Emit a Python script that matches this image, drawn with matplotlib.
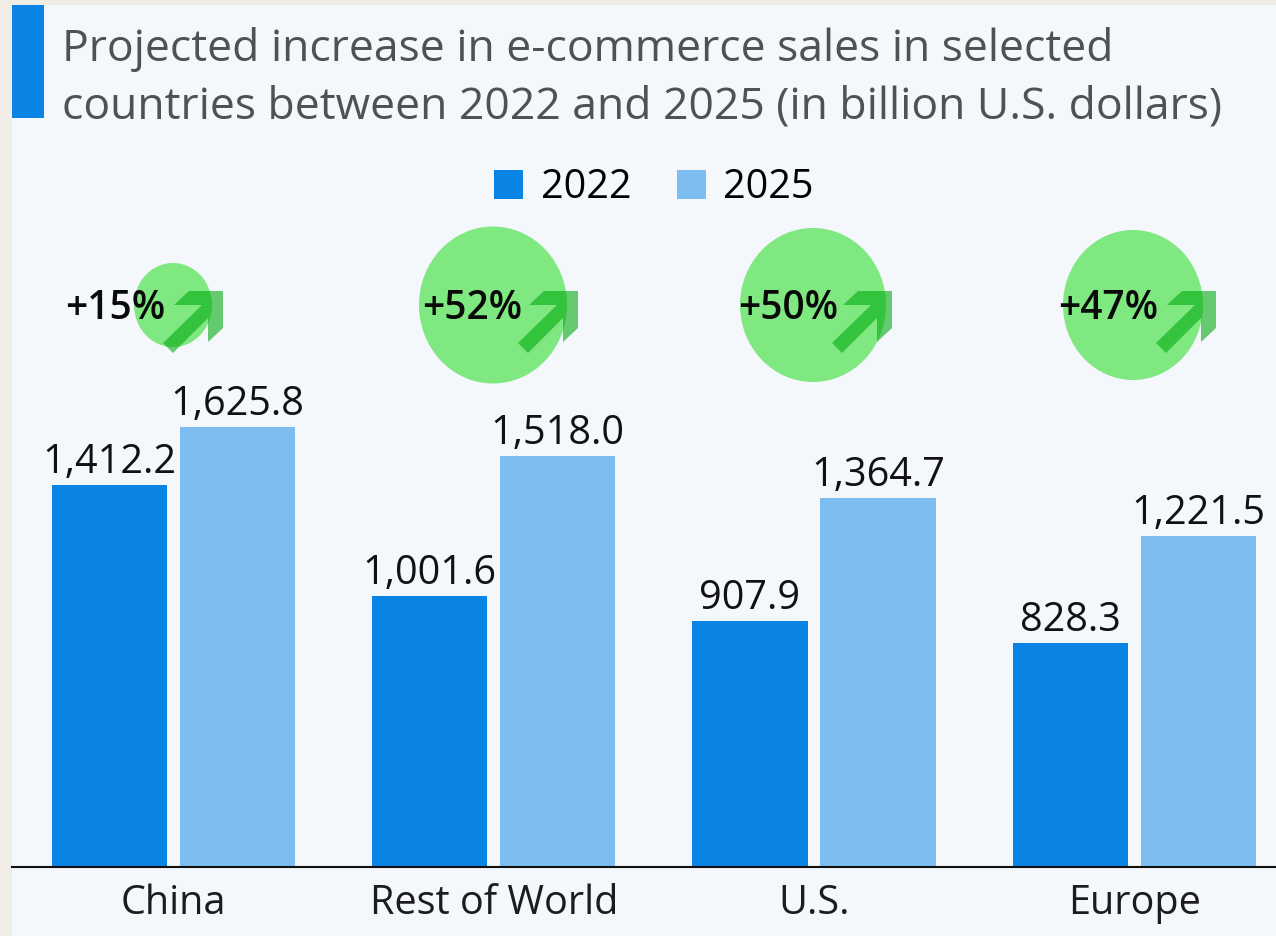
import matplotlib.pyplot as plt
from matplotlib.patches import Ellipse, Polygon, Rectangle

plt.rcParams["font.family"] = ["Open Sans", "DejaVu Sans"]

# data
countries = ["China", "Rest of World", "U.S.", "Europe"]
sales_2022 = [1412.2, 1001.6, 907.9, 828.3]
sales_2025 = [1625.8, 1518.0, 1364.7, 1221.5]
growth = ["+15%", "+52%", "+50%", "+47%"]

# colours
BLUE = "#0a84e4"
LIGHT = "#7dbdf0"
PANEL = "#f4f7fb"
OUTER = "#f0ede6"

# circle / arrow / label spots, in pixels
circle_x = [173, 493, 813, 1133]
circle_w = [78, 148, 146, 140]
circle_h = [84, 157, 154, 150]
circle_y = [305, 305, 305, 305]
arrow_x = [223, 578, 892, 1216]
growth_x = [115, 472, 788, 1108]
arrow_shape = [(-49, 14), (-34, 0), (0, 0), (0, 37), (-15, 51), (-15, 27),
               (-50, 62), (-60, 52), (-21, 14)]

fig = plt.figure(figsize=(12.76, 9.36), dpi=100, facecolor=OUTER)

# background layer in pixel coordinates
bg = fig.add_axes([0, 0, 1, 1])
bg.set_xlim(0, 1276)
bg.set_ylim(936, 0)
bg.axis("off")
bg.add_patch(Rectangle((12, 5), 1264, 931, color=PANEL, lw=0))
bg.add_patch(Rectangle((12, 5), 32, 113, color=BLUE, lw=0))
bg.text(62, 49, "Projected increase in e-commerce sales in selected",
        fontsize=32, color="#4c5357", va="center")
bg.text(62, 107, "countries between 2022 and 2025 (in billion U.S. dollars)",
        fontsize=32, color="#4c5357", va="center")

# bars
ax = fig.add_axes([12 / 1276, (936 - 867) / 936, 1264 / 1276, 867 / 936])
ax.patch.set_alpha(0)
x = list(range(len(countries)))
b1 = ax.bar([i - 0.2 for i in x], sales_2022, 0.36, color=BLUE, label="2022")
b2 = ax.bar([i + 0.2 for i in x], sales_2025, 0.36, color=LIGHT, label="2025")
ax.set_xlim(-0.504, 3.442)
ax.set_ylim(0, 867 / 0.2706)
ax.set_xticks(x)
ax.set_xticklabels(countries, fontsize=28.5, color="#1c1c1c")
ax.tick_params(axis="x", length=0, pad=12)
ax.set_yticks([])
for s in ["top", "left", "right"]:
    ax.spines[s].set_visible(False)
ax.spines["bottom"].set_color("#111111")
ax.spines["bottom"].set_linewidth(1.5)

ax.bar_label(b1, labels=[f"{v:,.1f}" for v in sales_2022], padding=1.5, fontsize=28.5, color="#111111")
ax.bar_label(b2, labels=[f"{v:,.1f}" for v in sales_2025], padding=1.5, fontsize=28.5, color="#111111")

ax.legend(loc="center", bbox_to_anchor=((654 - 12) / 1264, (867 - 188) / 867),
          ncol=2, frameon=False, fontsize=28.5, handlelength=0.73, handleheight=0.73,
          handletextpad=0.45, columnspacing=1.15, borderpad=0)

# growth badges
top = fig.add_axes([0, 0, 1, 1])
top.set_xlim(0, 1276)
top.set_ylim(936, 0)
top.axis("off")
for i in x:
    top.add_patch(Ellipse((circle_x[i], circle_y[i]), circle_w[i], circle_h[i],
                          color="#80e880", lw=0))
    pts = [(arrow_x[i] + dx, 291 + dy) for dx, dy in arrow_shape]
    top.add_patch(Polygon(pts, closed=True, facecolor="#00a90e", alpha=0.59, lw=0))
    top.text(growth_x[i], 309, growth[i], fontsize=28, color="#0a0a0a",
             ha="center", va="center", fontweight="semibold")

fig.savefig("out.png", dpi=100, facecolor=OUTER)
